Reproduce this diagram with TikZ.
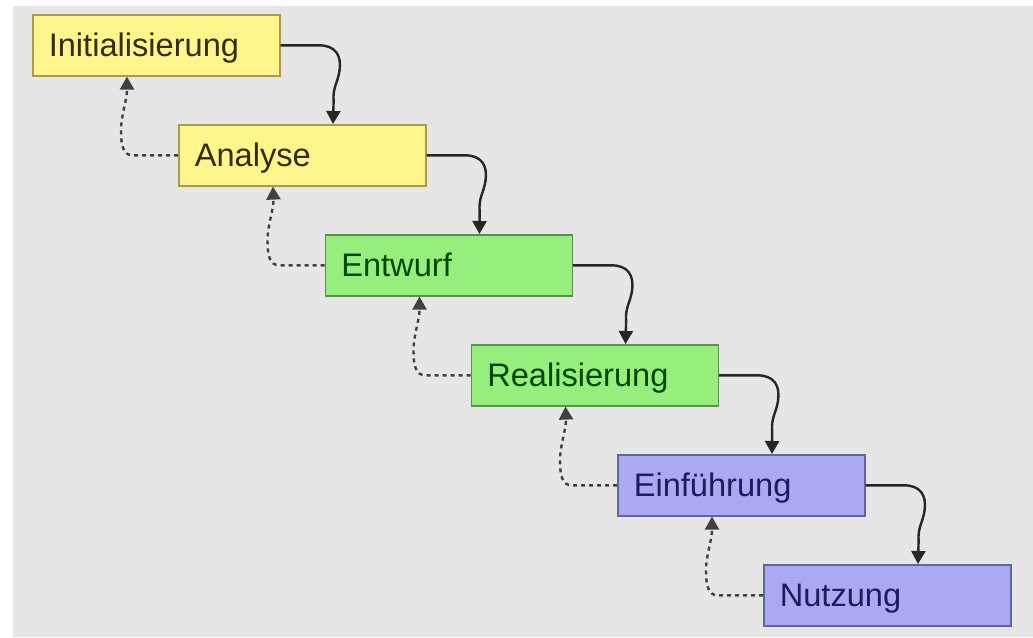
\documentclass[tikz,border=0pt]{standalone}
\usepackage{fontspec}
\setmainfont{Liberation Sans}
\usetikzlibrary{arrows.meta,calc}
\definecolor{bggray}{RGB}{230,230,230}
\definecolor{yfill}{RGB}{255,245,140}
\definecolor{ydraw}{RGB}{165,155,85}
\definecolor{ytext}{RGB}{50,44,0}
\definecolor{gfill}{RGB}{150,238,125}
\definecolor{gdraw}{RGB}{95,140,85}
\definecolor{gtext}{RGB}{0,70,0}
\definecolor{pfill}{RGB}{170,170,242}
\definecolor{pdraw}{RGB}{100,100,150}
\definecolor{ptext}{RGB}{28,28,95}
\tikzset{
  stage/.style={draw, line width=1.6pt, anchor=north west, minimum width=247pt,
    minimum height=61pt, text width=215pt, align=left, inner xsep=16pt, inner ysep=0pt,
    text height=27pt, text depth=5pt, font=\fontsize{32.6}{36}\selectfont},
  ystage/.style={stage, fill=yfill, draw=ydraw, text=ytext},
  gstage/.style={stage, fill=gfill, draw=gdraw, text=gtext},
  pstage/.style={stage, fill=pfill, draw=pdraw, text=ptext},
  fwd/.style={line width=2.4pt, draw=black!85, -{Triangle[width=14pt,length=13pt]}},
  back/.style={line width=2.4pt, draw=black!75, dash pattern=on 4pt off 4pt, -{Triangle[width=14pt,length=13pt]}}
}
\begin{document}
\begin{tikzpicture}[x=1pt,y=-1pt]
\useasboundingbox (0,0) rectangle (1033,637);
\fill[white] (0,0) rectangle (1033,637);
\fill[bggray] (13,6) rectangle (1033,637);
\node[ystage] (n1) at (32,14) {Initialisierung};
\node[ystage] (n2) at (178,124) {Analyse};
\node[gstage] (n3) at (324.5,234) {Entwurf};
\node[gstage] (n4) at (470.5,344) {Realisierung};
\node[pstage] (n5) at (617,454) {Einführung};
\node[pstage] (n6) at (763,564) {Nutzung};
\foreach \a/\b in {n1/n2,n2/n3,n3/n4,n4/n5,n5/n6}{
  \draw[fwd] (\a.east) -- ($(\a.east)+(38,0)$)
    .. controls ($(\a.east)+(55,0)$) and ($(\a.east)+(61,10)$) .. ($(\a.east)+(59,25)$)
    .. controls ($(\a.east)+(57,38)$) and ($(\a.east)+(52,42)$) .. ($(\a.east)+(53,56)$)
    -- ($(\b.north west)+(155,0)$);
  \draw[back] (\b.west) -- ($(\b.west)+(-45,0)$)
    .. controls ($(\b.west)+(-55,0)$) and ($(\b.west)+(-57,-10)$) .. ($(\b.west)+(-57,-25)$)
    .. controls ($(\b.west)+(-57,-40)$) and ($(\b.west)+(-51,-55)$) .. ($(\b.west)+(-51,-66)$)
    -- ($(\a.south west)+(95,0)$);
}
\end{tikzpicture}
\end{document}
